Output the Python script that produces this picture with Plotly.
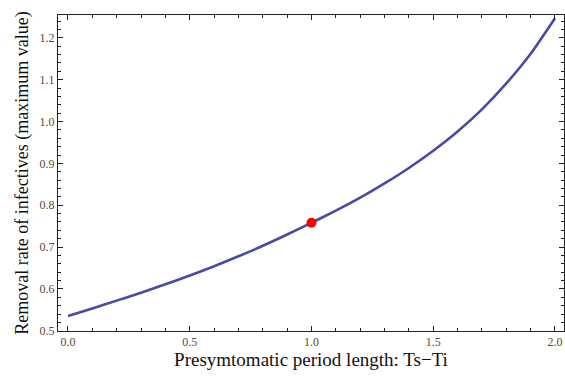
import plotly.graph_objects as go

# Data
period_length = [0.0, 0.1, 0.2, 0.3, 0.4, 0.5, 0.6, 0.7, 0.8, 0.9, 1.0,
                 1.1, 1.2, 1.3, 1.4, 1.5, 1.6, 1.7, 1.8, 1.9, 2.0]
removal_rate = [0.535, 0.553, 0.572, 0.591, 0.611, 0.632, 0.654, 0.678, 0.703, 0.730, 0.758,
                0.787, 0.818, 0.852, 0.889, 0.930, 0.976, 1.029, 1.091, 1.162, 1.247]
point_x = [1.0]
point_y = [0.758]

x_ticks = [0.0, 0.5, 1.0, 1.5, 2.0]
x_ticklabels = ["0.0", "0.5", "1.0", "1.5", "2.0"]
y_ticks = [0.5, 0.6, 0.7, 0.8, 0.9, 1.0, 1.1, 1.2]
y_ticklabels = ["0.5", "0.6", "0.7", "0.8", "0.9", "1.0", "1.1", "1.2"]

fig = go.Figure()
fig.add_trace(go.Scatter(
    x=period_length, y=removal_rate, mode="lines",
    line=dict(color="#4a4aa6", width=2.6, shape="spline", smoothing=0.6),
    hoverinfo="skip", showlegend=False,
))
fig.add_trace(go.Scatter(
    x=point_x, y=point_y, mode="markers",
    marker=dict(color="#ff0000", size=10),
    showlegend=False,
))

tickfont = dict(family="Liberation Serif", size=12, color="#5a4a30")
axis_common = dict(
    showgrid=False, zeroline=False, showline=True, linecolor="#222", linewidth=1,
    mirror="allticks", ticks="inside", ticklen=5, tickwidth=1, tickcolor="#222",
    tickfont=tickfont,
)

fig.update_xaxes(
    range=[-0.041, 2.037], tickvals=x_ticks, ticktext=x_ticklabels,
    minor=dict(dtick=0.1, ticks="inside", ticklen=3, tickcolor="#222"),
    title=dict(text="Presymtomatic period length: Ts\u2212Ti",
               font=dict(family="Liberation Serif", size=19, color="#111"), standoff=4),
    **axis_common,
)
fig.update_yaxes(
    range=[0.4994, 1.2546], tickvals=y_ticks, ticktext=y_ticklabels,
    minor=dict(dtick=0.02, ticks="inside", ticklen=3, tickcolor="#222"),
    title=dict(text="Removal rate of infectives (maximum value)",
               font=dict(family="Liberation Serif", size=18, color="#111"), standoff=6),
    **axis_common,
)

fig.update_layout(
    width=565, height=379,
    margin=dict(l=58, r=1, t=15, b=48),
    plot_bgcolor="white", paper_bgcolor="white",
)

fig.write_html("out.html")
